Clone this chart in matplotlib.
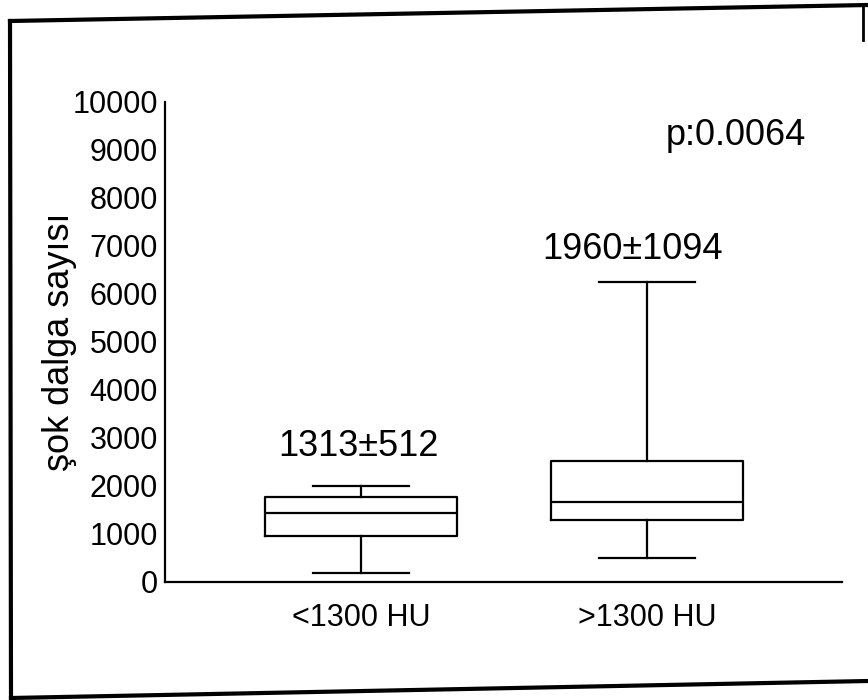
import matplotlib
matplotlib.use("Agg")
import matplotlib.pyplot as plt
from matplotlib.lines import Line2D

plt.rcParams['font.family'] = ['Liberation Sans', 'DejaVu Sans']

# box statistics
groups = ["<1300 HU", ">1300 HU"]
whislo = [180, 500]
q1 = [950, 1290]
med = [1440, 1670]
q3 = [1770, 2520]
whishi = [2010, 6250]
means_txt = ["1313\u00b1512", "1960\u00b11094"]
label_x = [0.99, 1.95]
label_y = [2830, 6920]
p_text = "p:0.0064"
yticks = list(range(0, 10001, 1000))

fig = plt.figure(figsize=(8.68, 7.0), dpi=100)
ax = fig.add_axes([0.190, 0.1686, 0.780, 0.6857])

stats = []
for i in range(len(groups)):
    stats.append(dict(label=groups[i], whislo=whislo[i], q1=q1[i], med=med[i],
                      q3=q3[i], whishi=whishi[i], fliers=[]))

lw = 1.6
ax.bxp(stats, positions=[1, 2], widths=0.67, showfliers=False,
       boxprops=dict(color='black', linewidth=lw),
       medianprops=dict(color='black', linewidth=lw),
       whiskerprops=dict(color='black', linewidth=lw),
       capprops=dict(color='black', linewidth=lw))

for i in range(len(groups)):
    ax.text(label_x[i], label_y[i], means_txt[i], ha='center', va='center', fontsize=26)
ax.text(2.31, 9300, p_text, ha='center', va='center', fontsize=26)

ax.set_xlim(0.315, 2.68)
ax.set_ylim(0, 10000)
ax.set_yticks(yticks)
ax.set_yticklabels([str(t) for t in yticks])
ax.tick_params(axis='both', length=0, labelsize=22)
ax.tick_params(axis='y', pad=5)
ax.tick_params(axis='x', pad=15)
ax.set_ylabel("şok dalga sayısı", fontsize=26, labelpad=-3)

for s in ['top', 'right']:
    ax.spines[s].set_visible(False)
for s in ['left', 'bottom']:
    ax.spines[s].set_linewidth(1.6)

# scanned page frame
W, H = 868.0, 700.0
def fl(xs, ys, w=3.0):
    fig.add_artist(Line2D([x / W for x in xs], [1 - y / H for y in ys],
                          transform=fig.transFigure, color='black', linewidth=w))
fl([10, 868], [21, 5])
fl([10, 11], [21, 698])
fl([11, 868], [698, 681])
fl([863, 863], [5, 40], w=2.0)

fig.savefig("out.png", dpi=100)
